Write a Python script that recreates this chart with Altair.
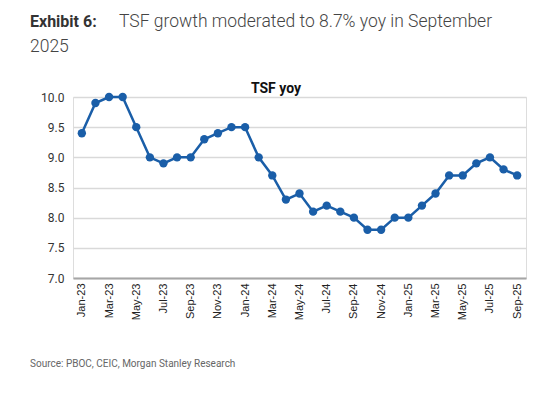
import altair as alt
import pandas as pd

months = ["Jan-23","Feb-23","Mar-23","Apr-23","May-23","Jun-23","Jul-23","Aug-23","Sep-23","Oct-23","Nov-23","Dec-23",
          "Jan-24","Feb-24","Mar-24","Apr-24","May-24","Jun-24","Jul-24","Aug-24","Sep-24","Oct-24","Nov-24","Dec-24",
          "Jan-25","Feb-25","Mar-25","Apr-25","May-25","Jun-25","Jul-25","Aug-25","Sep-25"]
tsf_yoy = [9.4, 9.9, 10.0, 10.0, 9.5, 9.0, 8.9, 9.0, 9.0, 9.3, 9.4, 9.5,
           9.5, 9.0, 8.7, 8.3, 8.4, 8.1, 8.2, 8.1, 8.0, 7.8, 7.8, 8.0,
           8.0, 8.2, 8.4, 8.7, 8.7, 8.9, 9.0, 8.8, 8.7]
y_ticks = [7.0, 7.5, 8.0, 8.5, 9.0, 9.5, 10.0]
x_label_months = months[::2]

exhibit_label = "Exhibit 6:"
title_line1 = "TSF growth moderated to 8.7% yoy in September"
title_line2 = "2025"
chart_title = "TSF yoy"
source_text = "Source: PBOC, CEIC, Morgan Stanley Research"

df = pd.DataFrame({"month": months, "value": tsf_yoy})

FONT = "Roboto"
BLUE = "#1a5ea8"

x_enc = alt.X("month:O", sort=months,
              scale=alt.Scale(type="point", padding=0.65),
              axis=alt.Axis(values=x_label_months, labelAngle=-90, title=None,
                            ticks=False, domain=True, domainColor="#a6a6a6", domainWidth=2,
                            labelFont="Liberation Sans", labelFontSize=11, labelColor="#222222",
                            labelPadding=5, grid=False, labelOverlap=False))
y_enc = alt.Y("value:Q", scale=alt.Scale(domain=[7, 10], nice=False, zero=False),
              axis=alt.Axis(values=y_ticks, format=".1f", title=None, ticks=False, domain=False,
                            labelFont=FONT, labelFontSize=12, labelColor="#333333", labelPadding=9,
                            gridColor="#d9d9d9", gridWidth=1.5, labelOverlap=False))

base = alt.Chart(df).encode(x=x_enc, y=y_enc)
line = base.mark_line(color=BLUE, strokeWidth=2.5)
pts = base.mark_circle(color=BLUE, size=70, opacity=1)

def txt(t, x, y, size, weight="normal", color="#333333", align="left"):
    return alt.Chart(pd.DataFrame({"t": [t]})).mark_text(
        font=FONT, fontSize=size, fontWeight=weight, color=color, align=align, baseline="alphabetic"
    ).encode(x=alt.value(x), y=alt.value(y), text="t:N")

texts = [
    txt(exhibit_label, -43, -70, 16, "bold", "#333333"),
    txt(title_line1, 46, -70, 17.5, 300, "#444444"),
    txt(title_line2, -43, -45, 17.5, 300, "#444444"),
    txt(chart_title, 203, -4, 14, "bold", "#111111", "center"),
    txt(source_text, -43, 270, 10, "normal", "#666666"),
]

chart = alt.layer(line, pts, *texts).properties(
    width=453, height=181,
    autosize=alt.AutoSizeParams(type="none"),
    padding={"left": 65, "top": 89, "right": 21, "bottom": 110},
).configure_view(stroke=None).configure(background="white")

chart.save("out.html", embed_options={"renderer": "svg", "actions": False})
